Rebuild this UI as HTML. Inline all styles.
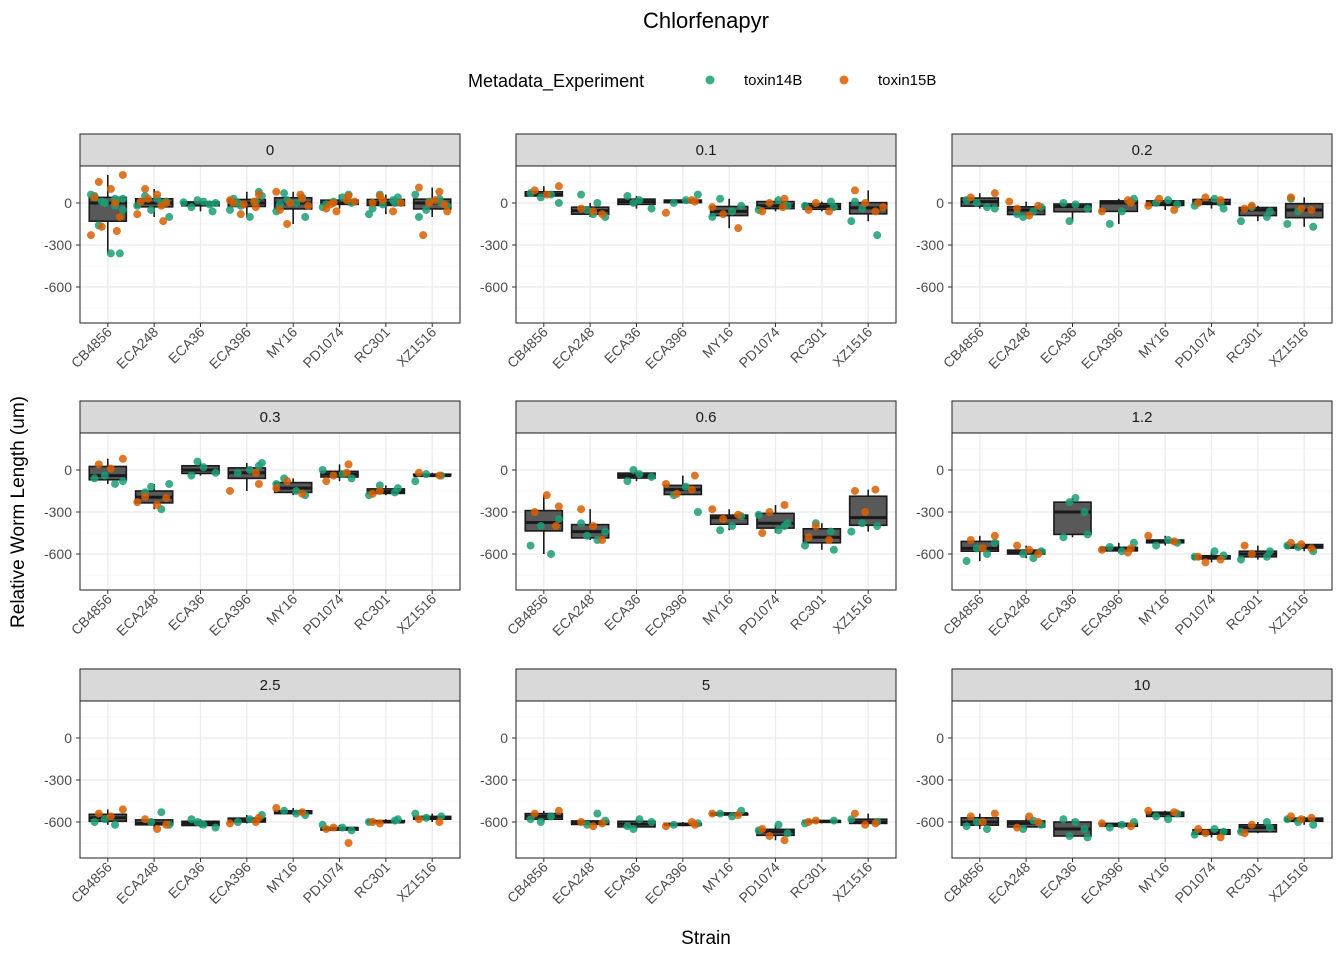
<!DOCTYPE html>
<html><head><meta charset="utf-8">
<style>
html,body{margin:0;padding:0;background:#fff;}
svg{display:block;font-family:"Liberation Sans",Arial,sans-serif;}
</style></head>
<body>
<svg id="chart" width="1344" height="960" viewBox="0 0 1344 960">
<text x="706" y="28" font-size="22" text-anchor="middle" fill="#000">Chlorfenapyr</text>
<g>
<text x="468" y="87" font-size="18" fill="#000">Metadata_Experiment</text>
<circle cx="710" cy="80" r="4.5" fill="#1B9E77" fill-opacity="0.85"/>
<text x="744" y="85" font-size="15" fill="#000">toxin14B</text>
<circle cx="844" cy="80" r="4.5" fill="#D95F02" fill-opacity="0.85"/>
<text x="878" y="85" font-size="15" fill="#000">toxin15B</text>
</g>
<text transform="translate(24,512) rotate(-90)" font-size="19" text-anchor="middle" fill="#000">Relative Worm Length (um)</text>
<text x="706" y="944" font-size="19" text-anchor="middle" fill="#000">Strain</text>
<g id="panels"></g>
</svg>
<script>
const concentrations = ["0","0.1","0.2","0.3","0.6","1.2","2.5","5","10"];
const strains = ["CB4856","ECA248","ECA36","ECA396","MY16","PD1074","RC301","XZ1516"];
const yTicks = [0,-300,-600];
const green = [
 [[50,30,0,-50,-160,-360,-360,60,20,10,40,-20,0,30],[0,-50,-100,50,30,10,-20,0],[20,0,-30,10,-60,5,-10],[50,0,-100,80,-50,10,-20,30],[70,0,-100,-60,40,20,-10],[40,0,-30,60,10,-10],[40,-80,0,60,-40,20,-10],[60,0,-50,-100,30,10,-20]],
 [[70,60,40,0],[0,-50,-100,60,-80],[0,-40,50,20],[60,0,20],[30,-60,-20,-100],[20,-20,-50],[-30,-20,10],[-130,-230,-40,10]],
 [[20,-30,0,-40],[-60,-100,-30,-80],[-130,-40,0,-10],[30,-150,-60,10],[0,20,-10],[30,-40,-20,0],[-60,-130,-100,-30],[-150,-170,-60,30]],
 [[-60,-100,-40,-80],[-280,-120,-100,-160],[60,-20,-40,20],[50,-20,0,30],[-60,-150,-180,-100],[-30,-60,0],[-130,-180,-160,-110],[-80,-40,-30]],
 [[-540,-600,-400,-350],[-500,-470,-440,-380],[0,-50,-80,-30],[-300,-180,-120],[-430,-400,-330],[-430,-380,-320,-400],[-570,-540,-440,-380],[-440,-400,-380]],
 [[-650,-600,-560,-520],[-630,-600,-580],[-230,-460,-480,-200,-300],[-520,-550,-580],[-540,-500,-520],[-580,-610,-620],[-580,-640,-620],[-540,-580,-550]],
 [[-600,-620,-580],[-530,-600,-620],[-600,-640,-580,-620],[-550,-600,-580],[-520,-540,-550],[-640,-660,-620],[-580,-600,-590],[-540,-560,-570]],
 [[-580,-560,-600],[-540,-620,-590],[-650,-600,-630,-580],[-610,-620],[-540,-560,-520],[-620,-680,-660],[-590,-610],[-580,-600]],
 [[-630,-650,-600],[-590,-650,-620],[-700,-710,-580,-600,-650],[-600,-640,-620],[-560,-580,-540],[-650,-670,-690],[-640,-670,-600],[-580,-620,-600]]
];
const orange = [
 [[200,150,100,-100,-230,-200,-170,40,0],[100,60,0,-80,-130,30,10,-20],[],[60,20,-30,-80,0,10,-10],[80,30,-150,-50,60,0,-20],[50,0,-40,20,-60,10,-10],[50,0,-60,20,0],[110,80,0,-60,-230,20,-10]],
 [[120,90,60],[-40,-60,-80],[],[10,-70,20],[-30,-180,-80],[30,0,-60,-30],[0,-50,-60],[90,-60,0,-30]],
 [[70,40],[-40,-90,-20,10],[],[0,-60,20],[-20,-50,30],[20,40,0],[-20,-40],[40,-50,-40]],
 [[80,40,10],[-190,-250,-200,-230],[],[-100,-150,-20],[-130,-170,-80],[40,-40,-80,-20],[-150,-170],[-20,-40]],
 [[-260,-300,-180,-400],[-280,-400,-500],[],[-40,-100,-140,-170],[-280,-320,-350],[-250,-300,-450],[-400,-480,-500],[-150,-140,-300]],
 [[-470,-500,-560],[-540,-570,-600],[],[-560,-570,-590],[-470,-510],[-640,-660,-620],[-600,-540],[-520,-560,-530]],
 [[-510,-540,-560],[-580,-650,-620],[],[-570,-610,-600],[-500,-530],[-750,-640,-650],[-610,-600],[-580,-600]],
 [[-520,-540],[-600,-630,-610],[],[-620,-630,-600],[-540,-550],[-730,-700,-650],[-590,-600],[-540,-610,-620]],
 [[-540,-560,-600],[-640,-560,-600],[],[-630,-610],[-520,-530],[-710,-680,-650],[-620,-680],[-560,-570,-580]]
];
const NS="http://www.w3.org/2000/svg";
const root=document.getElementById('panels');
function mk(tag,attrs,parent){const e=document.createElementNS(NS,tag);for(const k in attrs)e.setAttribute(k,attrs[k]);parent.appendChild(e);return e;}
const colX=[80,516,952], rowY=[134,401,669], PW=380, SH=32, PH=157;
const ymin=-857, ymax=264;
const jit=[-0.22,0.12,-0.05,0.25,-0.15,0.05,0.2,-0.28,0.15,-0.1];
function quant(a,p){const s=[...a].sort((x,y)=>x-y);const h=(s.length-1)*p;const l=Math.floor(h);return s[l]+(s[Math.min(l+1,s.length-1)]-s[l])*(h-l);}
concentrations.forEach((c,pi)=>{
  const px=colX[pi%3], sy=rowY[Math.floor(pi/3)], py=sy+SH;
  const g=mk('g',{},root);
  
  
  const yS=v=>py+(ymax-v)/(ymax-ymin)*PH;
  const unit=PW/8.2;
  const xS=i=>px+(0.6+i)*unit;
  const strip=mk('rect',{x:px,y:sy,width:PW,height:SH,fill:'#d9d9d9',stroke:'#333','stroke-width':1.1},g);
  
  
  const st=mk('text',{x:px+PW/2,y:sy+21,'font-size':15,'text-anchor':'middle',fill:'#1a1a1a'},g);st.textContent=c;
  
  
  mk('rect',{x:px,y:py,width:PW,height:PH,fill:'#fff'},g);
  [150,-150,-450,-750].forEach(v=>mk('line',{x1:px,x2:px+PW,y1:yS(v),y2:yS(v),stroke:'#f2f2f2','stroke-width':0.6},g));
  yTicks.forEach(v=>{
    mk('line',{x1:px,x2:px+PW,y1:yS(v),y2:yS(v),stroke:'#ebebeb','stroke-width':1.2},g);
    mk('line',{x1:px-4,x2:px,y1:yS(v),y2:yS(v),stroke:'#333','stroke-width':1},g);
    const t=mk('text',{x:px-8,y:yS(v)+5,'font-size':14,'text-anchor':'end',fill:'#4d4d4d'},g);t.textContent=v;
    
    
  });
  strains.forEach((s,si)=>{
    const x=xS(si);
    mk('line',{x1:x,x2:x,y1:py,y2:py+PH,stroke:'#ebebeb','stroke-width':1.2},g);
    mk('line',{x1:x,x2:x,y1:py+PH,y2:py+PH+4,stroke:'#333','stroke-width':1},g);
    const t=mk('text',{transform:`translate(${x+5},${py+PH+10}) rotate(-45)`,'font-size':14,'text-anchor':'end',fill:'#4d4d4d'},g);t.textContent=s;
    
    
    const all=green[pi][si].concat(orange[pi][si]);
    if(!all.length)return;
    const q1=quant(all,0.25),md=quant(all,0.5),q3=quant(all,0.75),iqr=q3-q1;
    const lo=Math.min(...all.filter(v=>v>=q1-1.5*iqr)),hi=Math.max(...all.filter(v=>v<=q3+1.5*iqr));
    const bw=unit*0.8;
    mk('line',{x1:x,x2:x,y1:yS(hi),y2:yS(q3),stroke:'#1a1a1a','stroke-width':1.6},g);
    mk('line',{x1:x,x2:x,y1:yS(q1),y2:yS(lo),stroke:'#1a1a1a','stroke-width':1.6},g);
    const b=mk('rect',{x:x-bw/2,y:yS(q3),width:bw,height:Math.max(1,yS(q1)-yS(q3)),fill:'#595959',stroke:'#1a1a1a','stroke-width':1.6},g);
    
    
    mk('line',{x1:x-bw/2,x2:x+bw/2,y1:yS(md),y2:yS(md),stroke:'#1a1a1a','stroke-width':3},g);
  });
  [[green,'#1B9E77','toxin14b'],[orange,'#D95F02','toxin15b']].forEach(([arr,col,nm],k)=>{
    strains.forEach((s,si)=>{
      arr[pi][si].forEach((v,j)=>{
        const dx=jit[(j+k*3+si)%jit.length]*unit*1.3;
        const p=mk('circle',{cx:xS(si)+dx,cy:yS(v),r:4,fill:col,'fill-opacity':0.85},g);
        
        
      });
    });
  });
  mk('rect',{x:px,y:py,width:PW,height:PH,fill:'none',stroke:'#333','stroke-width':1.1},g);
});
</script>
</body></html>
